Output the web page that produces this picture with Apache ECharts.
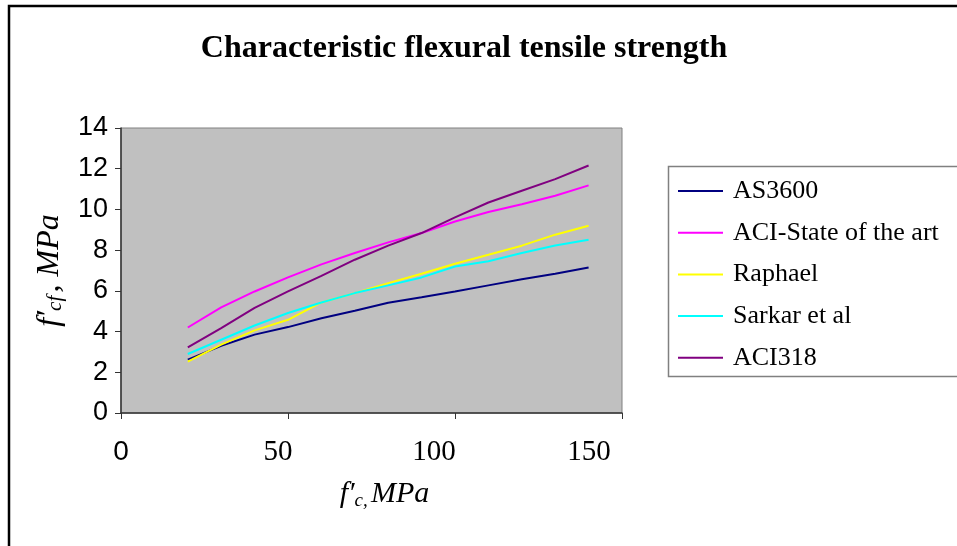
<!DOCTYPE html>
<html>
<head>
<meta charset="utf-8">
<script src="https://cdn.jsdelivr.net/npm/echarts@6/dist/echarts.min.js"></script>
<style>
html,body{margin:0;padding:0;background:#fff;}
#chart{width:957px;height:546px;}
</style>
</head>
<body>
<div id="chart"></div>
<script>
var fc = [20, 30, 40, 50, 60, 70, 80, 90, 100, 110, 120, 130, 140];
var seriesNames = ['AS3600', 'ACI-State of the art', 'Raphael', 'Sarkar et al', 'ACI318'];
var as3600 = [2.62, 3.3, 3.85, 4.22, 4.65, 5.02, 5.42, 5.69, 5.97, 6.27, 6.57, 6.84, 7.15];
var aciState = [4.2, 5.19, 5.97, 6.66, 7.3, 7.86, 8.38, 8.84, 9.41, 9.87, 10.25, 10.67, 11.18];
var raphael = [2.52, 3.36, 4.06, 4.58, 5.43, 5.89, 6.38, 6.84, 7.33, 7.77, 8.22, 8.76, 9.2];
var sarkar = [2.9, 3.6, 4.3, 4.91, 5.43, 5.89, 6.27, 6.66, 7.2, 7.45, 7.86, 8.23, 8.51];
var aci318 = [3.22, 4.17, 5.16, 5.97, 6.74, 7.53, 8.22, 8.84, 9.61, 10.34, 10.92, 11.49, 12.16];
var xTicks = [0, 50, 100, 150];
var yTicks = [0, 2, 4, 6, 8, 10, 12, 14];
var colors = ['#000080', '#FF00FF', '#FFFF00', '#00FFFF', '#800080'];

var allValues = [as3600, aciState, raphael, sarkar, aci318];

function pairs(vals) {
  return fc.map(function (x, i) { return [x, vals[i]]; });
}

var chart = echarts.init(document.getElementById('chart'));
var serif = '"Liberation Serif", "Times New Roman", serif';
var sans = '"Liberation Sans", Arial, sans-serif';

var option = {
  animation: false,
  backgroundColor: '#fff',
  title: {
    text: 'Characteristic flexural tensile strength',
    left: 464, top: 33, textAlign: 'center', padding: 0,
    textStyle: { fontFamily: serif, fontWeight: 'bold', fontSize: 32, color: '#000' }
  },
  grid: { left: 121, top: 128, right: 335, bottom: 133, show: true, backgroundColor: '#C0C0C0', borderColor: '#808080', borderWidth: 1 },
  xAxis: {
    type: 'value', min: xTicks[0], max: xTicks[xTicks.length - 1], interval: 50,
    axisLine: { show: true, onZero: false, lineStyle: { color: '#333', width: 1.5 } },
    axisTick: { show: true, length: 6, lineStyle: { color: '#333' } },
    splitLine: { show: false },
    axisLabel: {
      margin: 25,
      formatter: function (v) {
        if (v === 0) return '{s|0}';
        if (v === 50) return '{a|50}';
        if (v === 100) return '{b|100}';
        return '{c|150}';
      },
      rich: {
        s: { fontFamily: sans, fontSize: 28, color: '#000' },
        a: { fontFamily: serif, fontSize: 29, color: '#000', padding: [0, 20, 0, 0] },
        b: { fontFamily: serif, fontSize: 29, color: '#000', padding: [0, 42, 0, 0] },
        c: { fontFamily: serif, fontSize: 29, color: '#000', padding: [0, 66, 0, 0] }
      }
    },
    name: '{i|f′}{sub|c,} {i|MPa}',
    nameLocation: 'middle', nameGap: 66,
    nameTextStyle: {
      padding: [0, 0, 0, 26],
      rich: {
        i: { fontFamily: serif, fontStyle: 'italic', fontSize: 30, color: '#000' },
        sub: { fontFamily: serif, fontStyle: 'italic', fontSize: 19, color: '#000', verticalAlign: 'bottom', padding: [12, 0, 0, 0] }
      }
    }
  },
  yAxis: {
    type: 'value', min: yTicks[0], max: yTicks[yTicks.length - 1], interval: 2,
    axisLine: { show: true, onZero: false, lineStyle: { color: '#333', width: 1.5 } },
    axisTick: { show: true, length: 6, lineStyle: { color: '#333' } },
    splitLine: { show: false },
    axisLabel: { margin: 13, fontFamily: sans, fontSize: 27, color: '#000', padding: [4, 0, 0, 0] },
    name: '{i|f′}{sub|cf} {i|, MPa}',
    nameLocation: 'middle', nameGap: 55,
    nameTextStyle: {
      rich: {
        i: { fontFamily: serif, fontStyle: 'italic', fontSize: 32, color: '#000' },
        sub: { fontFamily: serif, fontStyle: 'italic', fontSize: 21, color: '#000', verticalAlign: 'bottom', padding: [12, 0, 0, 0] }
      }
    }
  },
  legend: {
    orient: 'vertical', left: 678, top: 177, padding: 0,
    itemWidth: 45, itemHeight: 2, itemGap: 13.7,
    icon: 'rect',
    data: seriesNames,
    textStyle: { fontFamily: serif, fontSize: 26, color: '#000', lineHeight: 28, padding: [0, 0, 0, 5] }
  },
  graphic: [
    { type: 'rect', z: 0, shape: { x: 9, y: 6, width: 1000, height: 600 }, style: { fill: 'none', stroke: '#000', lineWidth: 2.5 } },
    { type: 'rect', z: 0, shape: { x: 668.5, y: 166.5, width: 400, height: 210 }, style: { fill: '#fff', stroke: '#808080', lineWidth: 1.5 } }
  ],
  series: seriesNames.map(function (n, i) {
    return {
      name: n, type: 'line', data: pairs(allValues[i]),
      showSymbol: false, symbol: 'none',
      lineStyle: { color: colors[i], width: 2 },
      itemStyle: { color: colors[i] }
    };
  })
};
chart.setOption(option);
</script>
</body>
</html>
